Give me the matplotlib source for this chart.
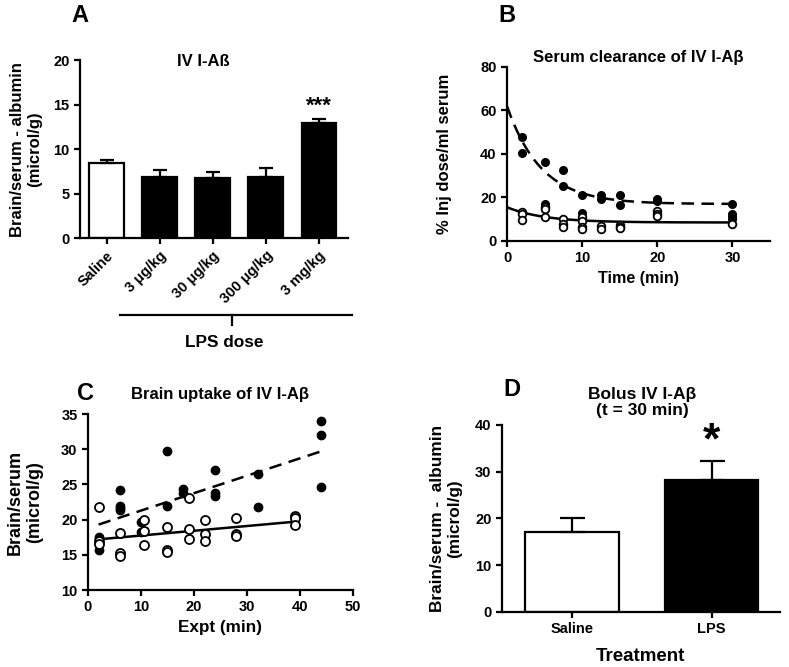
import matplotlib
matplotlib.use("Agg")
import matplotlib.pyplot as plt
import numpy as np

plt.rcParams['font.family'] = ['Liberation Sans', 'DejaVu Sans']
plt.rcParams['font.weight'] = 'bold'
plt.rcParams['axes.linewidth'] = 1.6
plt.rcParams['xtick.major.width'] = 1.6
plt.rcParams['ytick.major.width'] = 1.6
plt.rcParams['xtick.major.size'] = 4
plt.rcParams['ytick.major.size'] = 4

# ---- panel A data
a_labels = ["Saline", "3 \u03bcg/kg", "30 \u03bcg/kg", "300 \u03bcg/kg", "3 mg/kg"]
a_means = [8.4, 6.9, 6.8, 6.9, 12.9]
a_err = [0.4, 0.7, 0.6, 1.0, 0.5]
a_colors = ["white", "black", "black", "black", "black"]

# ---- panel B data (time min, % inj dose/ml)
b_lps_t = [2, 2, 5, 5, 5, 7.5, 7.5, 10, 10, 12.5, 12.5, 15, 15, 20, 20, 30, 30, 30, 30]
b_lps_y = [48, 40.5, 36.5, 17, 16, 32.5, 25.5, 21, 13, 21, 19.5, 21, 16.5, 19.5, 18.5, 17, 12.5, 11, 10]
b_sal_t = [2, 2, 2, 5, 5, 5, 7.5, 7.5, 7.5, 10, 10, 10, 10, 12.5, 12.5, 15, 15, 15, 20, 20, 20, 30]
b_sal_y = [13.5, 12.5, 9.5, 15.5, 14.5, 11, 10, 8, 6.5, 11, 9, 6.5, 5.5, 7, 5.5, 7.5, 6.5, 6, 14, 12.5, 11.5, 8]
# one-phase decay fits: (Y0, plateau, k)
b_lps_fit = (62, 17, 0.22)
b_sal_fit = (15.5, 8.5, 0.2)

# ---- panel C data (expt min, brain/serum)
c_lps_x = [2, 2, 2, 6, 6, 6, 6, 10, 10, 15, 15, 18, 18, 24, 24, 24, 32, 32, 44, 44, 44]
c_lps_y = [17.5, 17.3, 15.7, 24.2, 22, 21.7, 21.3, 19.7, 18.3, 29.8, 22, 24.3, 23.8, 27, 23.8, 23.3, 26.5, 21.8, 34, 32, 24.6]
c_sal_x = [2, 2, 2, 6, 6, 6, 10.5, 10.5, 10.5, 15, 15, 15, 19, 19, 19, 22, 22, 22, 28, 28, 28, 39, 39, 39]
c_sal_y = [21.8, 16.9, 16.5, 18.1, 15.3, 14.8, 20, 18.4, 16.4, 18.9, 15.7, 15.4, 23.1, 18.7, 17.3, 20, 17.9, 16.9, 20.2, 17.9, 17.7, 20.5, 20.3, 19.2]
c_lps_line = ([2, 44], [19.3, 29.7])
c_sal_line = ([2, 39], [17.2, 19.7])

# ---- panel D data
d_labels = ["Saline", "LPS"]
d_means = [17.2, 28.3]
d_err = [2.8, 4.0]
d_colors = ["white", "black"]

fig = plt.figure(figsize=(7.89, 6.67), dpi=100)

def style(ax):
    ax.spines['top'].set_visible(False)
    ax.spines['right'].set_visible(False)
    ax.tick_params(labelsize=10.5)
    for t in ax.get_xticklabels() + ax.get_yticklabels():
        t.set_fontweight('bold')

# Panel A
axA = fig.add_axes([0.1014, 0.643, 0.3396, 0.267])
xa = np.arange(len(a_means))
axA.bar(xa, a_means, width=0.65, color=a_colors, edgecolor='black', linewidth=1.6)
axA.errorbar(xa, a_means, yerr=[np.zeros(len(a_err)), a_err], fmt='none',
             ecolor='black', elinewidth=1.6, capsize=5, capthick=1.6)
axA.set_xlim(-0.5, 4.55)
axA.set_ylim(0, 20)
axA.set_yticks([0, 5, 10, 15, 20])
axA.set_xticks(xa)
axA.set_xticklabels(a_labels, rotation=45, ha='right', rotation_mode='anchor', fontsize=10.5)
style(axA)
axA.set_ylabel("Brain/serum - albumin\n(microl/g)", fontsize=12, fontweight='bold', labelpad=8)
axA.text(0.46, 0.99, "IV I-A\u00df", transform=axA.transAxes, ha='center', va='center', fontsize=12)
axA.text(4, a_means[4] + a_err[4] + 1.4, "***", ha='center', va='center', fontsize=16)
axA.plot([0.149, 1.015], [-0.4326, -0.4326], transform=axA.transAxes, color='black', lw=1.6, clip_on=False)
axA.plot([0.567, 0.567], [-0.4326, -0.489], transform=axA.transAxes, color='black', lw=1.6, clip_on=False)
axA.text(0.537, -0.584, "LPS dose", transform=axA.transAxes, ha='center', va='center', fontsize=12.4)
fig.text(80 / 789, 1 - 15 / 667, "A", ha='center', va='center', fontsize=17)

# Panel B
axB = fig.add_axes([0.6426, 0.6387, 0.3334, 0.2609])
tt = np.linspace(0, 30, 200)
y0, pl, k = b_lps_fit
axB.plot(tt, pl + (y0 - pl) * np.exp(-k * tt), 'k--', lw=1.8, dashes=(5, 3))
y0, pl, k = b_sal_fit
axB.plot(tt, pl + (y0 - pl) * np.exp(-k * tt), 'k-', lw=1.8)
axB.plot(b_lps_t, b_lps_y, 'o', ms=5.5, mfc='black', mec='black', clip_on=False)
axB.plot(b_sal_t, b_sal_y, 'o', ms=5.5, mfc='white', mec='black', mew=1.3, clip_on=False)
axB.set_xlim(0, 35)
axB.set_ylim(0, 80)
axB.set_xticks([0, 10, 20, 30])
axB.set_yticks([0, 20, 40, 60, 80])
style(axB)
axB.set_xlabel("Time (min)", fontsize=11.6, fontweight='bold')
axB.set_ylabel("% Inj dose/ml serum", fontsize=12, fontweight='bold', labelpad=20)
axB.text(0.498, 1.052, "Serum clearance of IV I-A\u03b2", transform=axB.transAxes,
         ha='center', va='center', fontsize=12)
fig.text(507 / 789, 1 - 15 / 667, "B", ha='center', va='center', fontsize=17)

# Panel C
axC = fig.add_axes([0.1115, 0.1154, 0.3359, 0.2639])
axC.plot(*c_lps_line, 'k--', lw=1.8, dashes=(5, 3))
axC.plot(*c_sal_line, 'k-', lw=1.8)
axC.plot(c_lps_x, c_lps_y, 'o', ms=6, mfc='black', mec='black', clip_on=False)
axC.plot(c_sal_x, c_sal_y, 'o', ms=6.5, mfc='white', mec='black', mew=1.3, clip_on=False)
axC.set_xlim(0, 50)
axC.set_ylim(10, 35)
axC.set_xticks([0, 10, 20, 30, 40, 50])
axC.set_yticks([10, 15, 20, 25, 30, 35])
style(axC)
axC.set_xlabel("Expt (min)", fontsize=12.3, fontweight='bold')
axC.set_ylabel("Brain/serum\n(microl/g)", fontsize=13, fontweight='bold', labelpad=13)
axC.text(0.498, 1.108, "Brain uptake of IV I-A\u03b2", transform=axC.transAxes,
         ha='center', va='center', fontsize=12)
fig.text(85 / 789, 1 - 394 / 667, "C", ha='center', va='center', fontsize=17)

# Panel D
axD = fig.add_axes([0.636, 0.0825, 0.3526, 0.2804])
xd = np.arange(len(d_means))
axD.bar(xd, d_means, width=0.67, color=d_colors, edgecolor='black', linewidth=1.6)
axD.errorbar(xd, d_means, yerr=[np.zeros(len(d_err)), d_err], fmt='none',
             ecolor='black', elinewidth=1.6, capsize=9, capthick=1.6)
axD.set_xlim(-0.5, 1.49)
axD.set_ylim(0, 40)
axD.set_yticks([0, 10, 20, 30, 40])
axD.set_xticks(xd)
axD.set_xticklabels(d_labels, fontsize=11)
style(axD)
axD.set_xlabel("Treatment", fontsize=13.5, fontweight='bold', labelpad=8)
axD.set_ylabel("Brain/serum -  albumin\n(microl/g)", fontsize=12.4, fontweight='bold', labelpad=9)
axD.text(1, 36.3, "*", ha='center', va='center', fontsize=32)
axD.text(0.504, 1.118, "Bolus IV I-A\u03b2\n(t = 30 min)", transform=axD.transAxes,
         ha='center', va='center', fontsize=12.5, linespacing=1.1)
fig.text(512 / 789, 1 - 390 / 667, "D", ha='center', va='center', fontsize=17)

fig.savefig("out.png", dpi=100)
